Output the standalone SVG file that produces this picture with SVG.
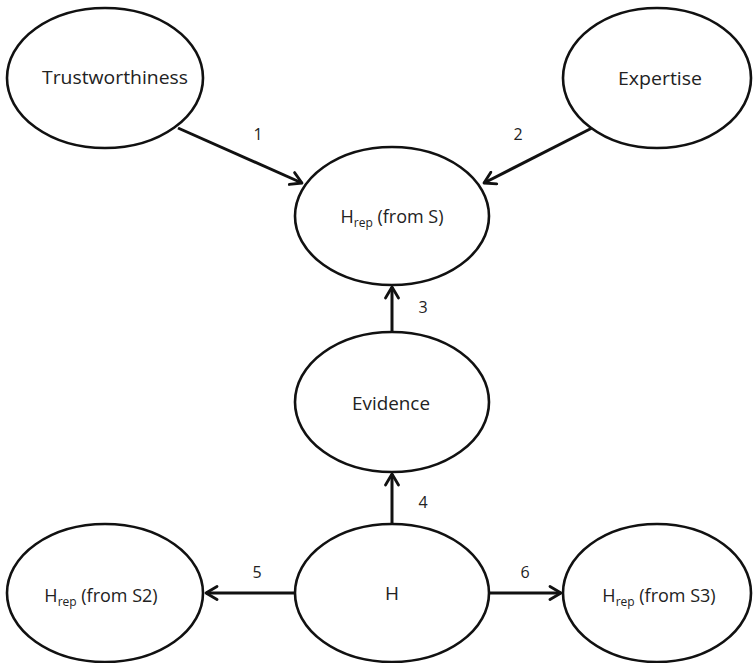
<svg xmlns="http://www.w3.org/2000/svg" width="753" height="663" viewBox="0 0 753 663">
<style>
.node ellipse{fill:#fff;stroke:#111;stroke-width:2.6}
.lbl{font-family:"Open Sans","Noto Sans","DejaVu Sans",sans-serif;font-size:19px;fill:#222;text-anchor:middle}
.sm{font-size:18px}
.sub{font-size:12px}
.num{font-family:"Open Sans","Noto Sans","DejaVu Sans",sans-serif;font-size:16px;fill:#222;text-anchor:middle}
.edge{stroke:#111;stroke-width:3;fill:none;marker-end:url(#arr)}
</style>
<defs>
<marker id="arr" markerUnits="userSpaceOnUse" markerWidth="16" markerHeight="16" viewBox="0 0 16 16" refX="13" refY="8" orient="auto">
<path d="M2,1.5 L13,8 L2,14.5" fill="none" stroke="#111" stroke-width="2.8" stroke-linecap="round" stroke-linejoin="round"/>
</marker>
</defs>
<g id="connectors">
<line class="edge" x1="178" y1="128" x2="302" y2="183"/>
<line class="edge" x1="592" y1="128" x2="484" y2="183"/>
<line class="edge" x1="392" y1="332" x2="392" y2="287"/>
<line class="edge" x1="392" y1="524" x2="392" y2="474"/>
<line class="edge" x1="295" y1="593" x2="206" y2="593"/>
<line class="edge" x1="488" y1="593" x2="561" y2="593"/>
<text class="num" x="258" y="140">1</text>
<text class="num" x="518" y="140">2</text>
<text class="num" x="423" y="313">3</text>
<text class="num" x="423" y="508">4</text>
<text class="num" x="257" y="578">5</text>
<text class="num" x="525" y="578">6</text>
</g>
<g id="trustworthiness" class="node">
<ellipse cx="105" cy="78" rx="98" ry="70"/>
<text class="lbl" x="115" y="84" textLength="146" lengthAdjust="spacingAndGlyphs">Trustworthiness</text>
</g>
<g id="expertise" class="node">
<ellipse cx="657" cy="78" rx="94" ry="70"/>
<text class="lbl" x="660" y="85" textLength="84" lengthAdjust="spacingAndGlyphs">Expertise</text>
</g>
<g id="hrep-s" class="node">
<ellipse cx="392" cy="216" rx="97" ry="69"/>
<text class="lbl sm" x="392" y="223">H<tspan class="sub" dy="4">rep</tspan><tspan dy="-4"> (from S)</tspan></text>
</g>
<g id="evidence" class="node">
<ellipse cx="392" cy="402" rx="97" ry="70"/>
<text class="lbl" x="391" y="410" textLength="78" lengthAdjust="spacingAndGlyphs">Evidence</text>
</g>
<g id="h" class="node">
<ellipse cx="392" cy="593" rx="97" ry="69"/>
<text class="lbl" x="392" y="600">H</text>
</g>
<g id="hrep-s2" class="node">
<ellipse cx="105" cy="593" rx="98" ry="69"/>
<text class="lbl sm" x="101" y="602">H<tspan class="sub" dy="4">rep</tspan><tspan dy="-4"> (from S2)</tspan></text>
</g>
<g id="hrep-s3" class="node">
<ellipse cx="657" cy="593" rx="94" ry="69"/>
<text class="lbl sm" x="659" y="602">H<tspan class="sub" dy="4">rep</tspan><tspan dy="-4"> (from S3)</tspan></text>
</g>
</svg>
